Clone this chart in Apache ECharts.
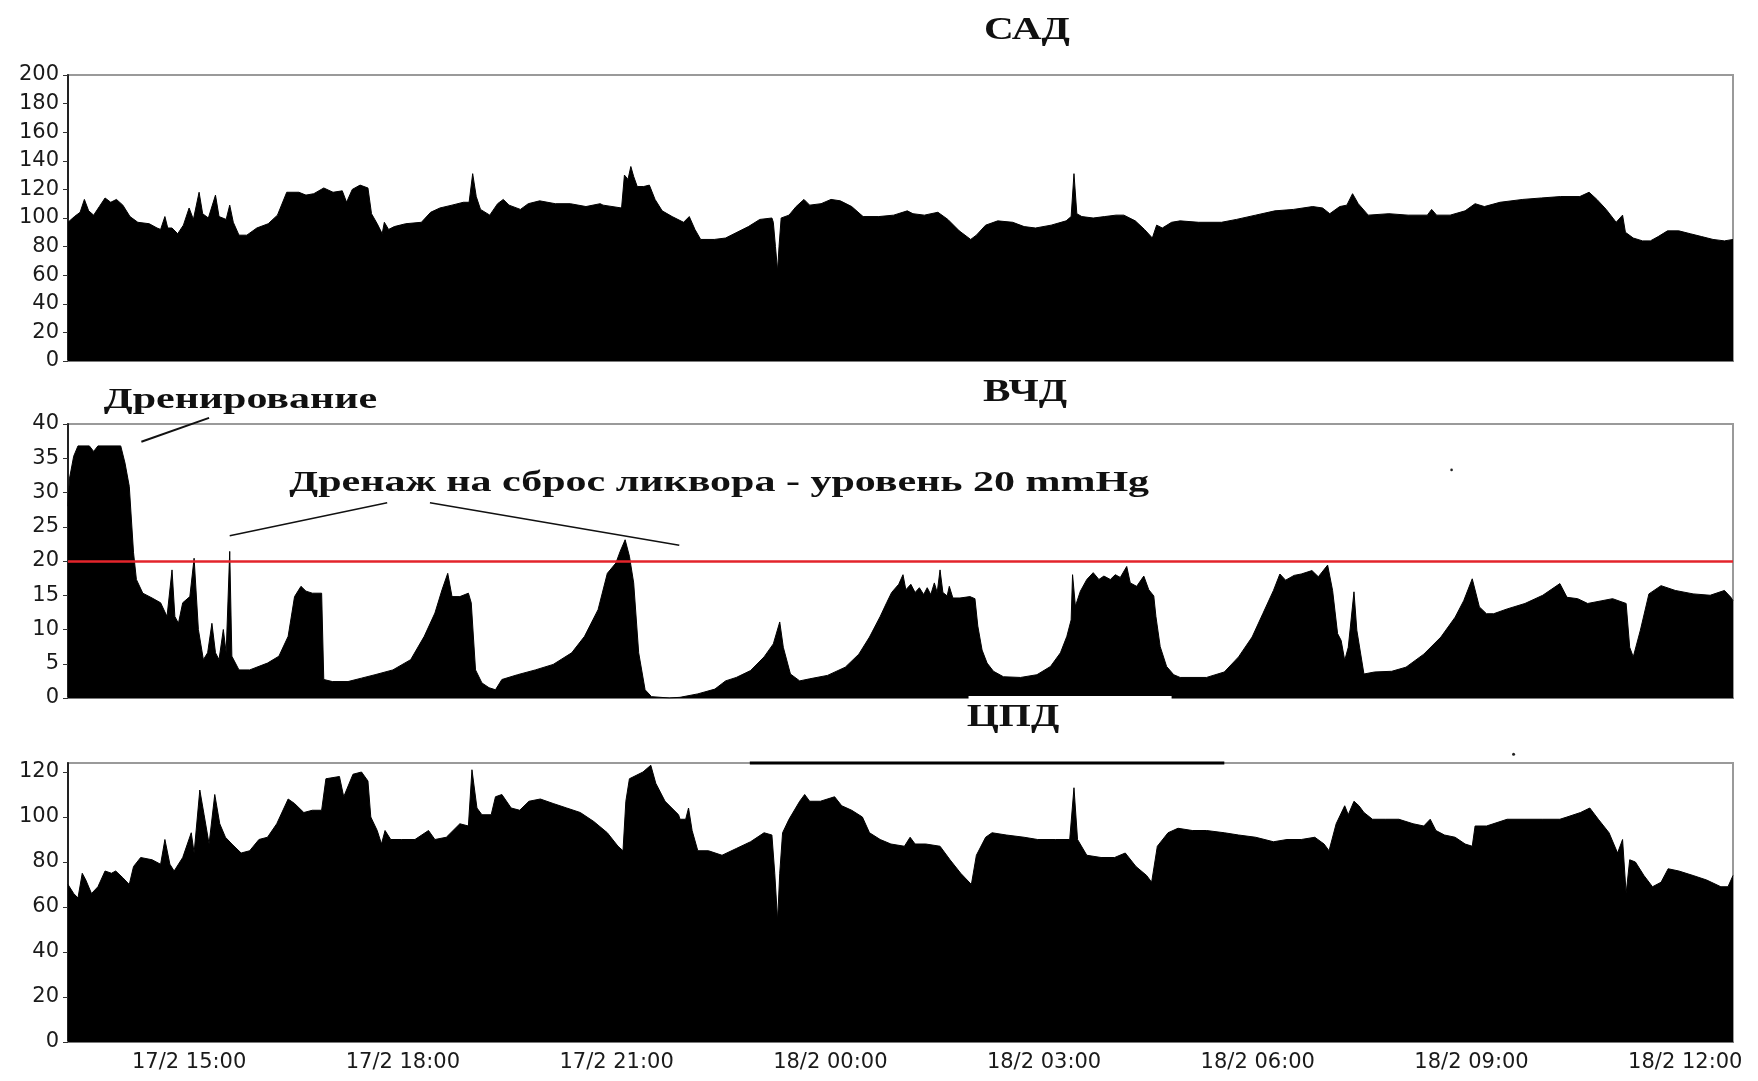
<!DOCTYPE html>
<html><head><meta charset="utf-8">
<script src="https://cdn.jsdelivr.net/npm/echarts@6/dist/echarts.min.js"></script>
<style>html,body{margin:0;padding:0;background:#fff}#c{width:1758px;height:1081px}</style>
</head><body><div id="c"></div>
<script>
// ---------- DATA (time = hours since 17/2 00:00) ----------
const sadTime = [13.30,13.39,13.47,13.53,13.59,13.66,13.74,13.82,13.90,13.98,14.07,14.17,14.28,14.44,14.55,14.60,14.66,14.70,14.76,14.84,14.92,15.00,15.06,15.14,15.19,15.27,15.37,15.42,15.52,15.57,15.62,15.70,15.81,15.95,16.11,16.24,16.37,16.54,16.64,16.75,16.89,17.02,17.15,17.21,17.29,17.40,17.51,17.56,17.64,17.71,17.74,17.80,17.88,18.04,18.26,18.39,18.52,18.69,18.85,18.93,18.98,19.03,19.09,19.22,19.33,19.41,19.49,19.65,19.76,19.92,20.14,20.35,20.57,20.77,
20.81,21.07,21.11,21.16,21.20,21.24,21.29,21.38,21.46,21.54,21.64,21.78,21.94,22.02,22.10,22.18,22.37,22.53,22.69,22.85,23.01,23.18,23.20,23.23,23.26,23.28,23.31,23.42,23.52,23.63,23.71,23.87,24.01,24.14,24.30,24.46,24.68,24.89,25.08,25.16,25.32,25.51,25.65,25.81,25.97,26.05,26.18,26.35,26.56,26.72,26.88,27.10,27.31,27.38,27.42,27.46,27.53,27.69,27.85,28.01,28.12,28.28,28.41,28.52,28.58,28.66,28.79,28.91,
29.17,29.49,29.70,29.97,30.24,30.50,30.77,30.91,31.01,31.15,31.25,31.33,31.41,31.55,31.84,32.11,32.38,32.44,32.51,32.70,32.91,33.05,33.18,33.40,33.72,33.98,34.25,34.52,34.65,34.76,34.89,35.03,35.12,35.16,35.27,35.40,35.51,35.62,35.75,35.91,36.07,36.23,36.39,36.55,36.67];
const sadValue = [97,101,104,113,105,102,108,114,111,113,109,101,97,96,93,92,101,93,93,89,95,107,99,118,103,100,116,101,99,109,97,88,88,93,96,102,118,118,116,117,121,118,119,111,120,123,121,103,96,89,97,92,94,96,97,104,107,109,111,111,131,115,106,102,110,113,109,106,110,112,110,110,108,110,
109,107,130,127,136,129,122,122,123,113,105,101,97,101,92,85,85,86,90,94,99,100,97,80,63,80,100,102,108,113,109,110,113,112,108,101,101,102,105,103,102,104,99,91,85,88,95,98,97,94,93,95,98,101,131,103,101,100,101,102,102,98,92,86,95,93,97,98,
97,97,99,102,105,106,108,107,103,108,109,117,110,102,103,102,102,106,102,102,105,110,108,111,113,114,115,115,118,113,106,97,102,90,86,84,84,87,91,91,89,87,85,84,85];

const icpTime = [13.30,13.32,13.38,13.44,13.60,13.66,13.72,14.04,14.10,14.16,14.22,14.26,14.35,14.48,14.60,14.69,14.76,14.80,14.85,14.91,15.01,15.07,15.13,15.20,15.26,15.32,15.37,15.42,15.48,15.52,15.57,15.60,15.70,15.85,16.10,16.26,16.39,16.48,16.57,16.64,16.73,16.86,16.89,17.01,17.23,17.42,17.61,17.86,18.11,18.30,18.45,18.55,18.63,18.69,18.80,18.92,18.96,19.02,19.11,19.21,19.30,19.39,19.61,19.86,20.11,20.37,20.55,20.74,20.87,20.99,21.05,21.12,21.18,21.24,21.31,21.40,21.49,21.74,
21.89,22.14,22.38,22.53,22.68,22.88,23.07,23.20,23.29,23.34,23.44,23.57,23.71,23.96,24.21,24.40,24.55,24.70,24.79,24.86,24.96,25.02,25.06,25.13,25.19,25.25,25.31,25.36,25.41,25.46,25.50,25.54,25.58,25.64,25.67,25.72,25.82,25.96,26.03,26.07,26.13,26.20,26.29,26.43,26.67,26.90,27.09,27.23,27.32,27.38,27.40,27.44,27.51,27.60,27.69,27.77,27.84,27.93,28.00,28.07,28.16,28.21,28.30,28.40,28.47,28.54,28.57,28.63,28.72,28.82,28.91,29.28,
29.53,29.73,29.92,30.07,30.22,30.31,30.39,30.51,30.61,30.76,30.85,30.98,31.05,31.12,31.17,31.22,31.27,31.35,31.39,31.49,31.64,31.88,32.08,32.33,32.57,32.77,32.89,33.01,33.11,33.21,33.31,33.50,33.75,34.00,34.24,34.34,34.49,34.63,34.83,34.98,35.17,35.22,35.27,35.37,35.49,35.66,35.86,36.11,36.35,36.55,36.64,36.67];
const icpValue = [28,32,35.3,36.8,36.8,36,36.8,36.8,34.3,30.9,21.2,17.3,15.3,14.6,13.9,11.9,18.7,11.9,10.9,13.9,14.8,20.4,10,5.6,6.6,10.9,6.6,5.6,10,6.6,21.4,6.1,4.1,4.1,5.1,6.1,9,14.8,16.3,15.6,15.3,15.3,2.7,2.4,2.4,2.9,3.4,4.1,5.6,9,12.4,15.8,18.2,14.8,14.8,15.3,13.9,4.1,2.2,1.5,1.2,2.7,3.4,4.1,4.9,6.6,9,12.9,18.2,19.7,21.4,23.1,20.7,16.8,6.6,1.2,0.2,0,
0.1,0.6,1.3,2.5,3,4,6,7.9,11.1,7.4,3.5,2.5,2.8,3.3,4.5,6.4,8.9,11.9,13.9,15.4,16.6,18.0,15.8,16.6,15.4,16.1,15.1,16.1,15.1,16.8,15.4,18.7,15.4,14.9,16.3,14.6,14.6,14.8,14.5,10.5,7.0,5.1,3.9,3.1,3.0,3.4,4.6,6.6,9.0,11.4,18.0,13.4,15.6,17.3,18.3,17.3,17.8,17.3,18.0,17.6,19.2,16.8,16.3,17.8,15.8,14.9,11.9,7.5,4.6,3.4,3.0,3,
3.8,6,8.9,12.3,15.7,18.1,17.2,17.9,18.1,18.6,17.7,19.4,15.7,9.4,8.4,5.5,7.4,15.5,9.9,3.5,3.8,3.9,4.5,6.4,8.9,11.8,14.2,17.4,13.3,12.3,12.3,13,13.8,15,16.7,14.7,14.5,13.8,14.2,14.5,13.8,7.4,6,9.9,15.2,16.4,15.7,15.2,15,15.7,14.7,14.2];

const cppTime = [13.30,13.38,13.44,13.50,13.55,13.63,13.72,13.82,13.91,13.97,14.07,14.16,14.22,14.32,14.48,14.60,14.66,14.73,14.79,14.91,15.03,15.07,15.15,15.21,15.28,15.36,15.43,15.51,15.60,15.73,15.85,15.98,16.10,16.23,16.39,16.48,16.61,16.73,16.86,16.92,17.11,17.17,17.30,17.42,17.51,17.55,17.64,17.70,17.75,17.83,17.98,18.17,18.36,18.45,18.61,18.80,18.92,18.97,19.04,19.11,19.24,19.30,19.39,19.52,19.64,19.77,19.93,20.11,20.30,20.49,20.68,20.87,21.02,21.09,21.13,21.18,21.37,21.48,21.55,21.68,21.87,
21.89,21.97,22.01,22.06,22.14,22.29,22.48,22.68,22.88,23.07,23.18,23.22,23.26,23.29,23.33,23.42,23.57,23.64,23.71,23.86,24.06,24.16,24.30,24.45,24.55,24.70,24.85,25.04,25.12,25.19,25.34,25.54,25.68,25.83,25.98,26.05,26.18,26.27,26.47,26.72,26.91,27.16,27.36,27.42,27.47,27.60,27.80,27.99,28.14,28.29,28.44,28.51,28.59,28.74,28.88,29.08,29.28,
29.53,29.73,29.97,30.22,30.41,30.61,30.80,30.93,31.00,31.10,31.22,31.27,31.35,31.42,31.49,31.61,31.79,31.98,32.18,32.33,32.42,32.50,32.62,32.77,32.91,33.01,33.05,33.21,33.50,33.75,34.00,34.24,34.34,34.53,34.66,34.78,34.93,35.05,35.12,35.17,35.22,35.30,35.42,35.54,35.66,35.76,35.91,36.11,36.30,36.50,36.60,36.67];
const cppValue = [70,66,64,75,72,66,69,76,75,76,73,70,78,82,81,79,90,79,76,82,93,84,112,101,88,110,97,91,88,84,85,90,91,97,108,106,102,103,103,117,118,109,119,120,116,100,94,88,94,90,90,90,94,90,91,97,96,121,104,101,101,109,110,104,103,107,108,106,104,102,98,93,87,85,107,117,120,123,115,107,101,
99,99,104,94,85,85,83,86,89,93,92,75,54,75,93,99,107,110,107,107,109,105,103,100,93,90,88,87,91,88,88,87,81,75,70,83,91,93,92,91,90,90,90,113,90,83,82,82,84,78,74,71,87,93,95,94,94,
93,92,91,89,90,90,91,88,85,97,105,101,107,105,102,99,99,99,97,96,99,94,92,91,88,87,96,96,99,99,99,99,100,102,104,99,93,84,90,66,81,80,74,69,71,77,76,74,72,69,69,74];

const xTickHours  = [15,18,21,24,27,30,33,36];
const xTickLabels = ['17/2 15:00','17/2 18:00','17/2 21:00','18/2 00:00','18/2 03:00','18/2 06:00','18/2 09:00','18/2 12:00'];
const sadTicks = [0,20,40,60,80,100,120,140,160,180,200];
const icpTicks = [0,5,10,15,20,25,30,35,40];
const cppTicks = [0,20,40,60,80,100,120];
const icpThreshold = 20;
const panelTitles = ['САД','ВЧД','ЦПД'];
const noteDrain = 'Дренирование';
const noteLevel = 'Дренаж на сброс ликвора - уровень 20 mmHg';

// ---------- CHART ----------
const zip = (t, v) => t.map((x, i) => [x, v[i]]);
const chart = echarts.init(document.getElementById('c'), null, {renderer: 'canvas'});
const X_MIN = 13.30, X_MAX = 36.67;
const labelFont = {fontFamily: 'DejaVu Sans', fontSize: 21, color: '#1a1a1a'};
const grids = [
  {left: 68, right: 25, top: 75, height: 286},
  {left: 68, right: 25, top: 424, height: 274},
  {left: 68, right: 25, top: 763, height: 279}
].map(g => Object.assign({show: true, borderColor: '#9a9a9a', borderWidth: 2, backgroundColor: 'transparent'}, g));

function xAx(i) {
  return {
    type: 'value', gridIndex: i, min: X_MIN, max: X_MAX,
    splitLine: {show: false},
    axisLine: {show: true, lineStyle: {color: '#7a7a7a', width: 2}},
    axisTick: {show: false},
    axisLabel: i === 2 ? Object.assign({
      show: true, margin: 10, customValues: xTickHours,
      formatter: v => { const k = xTickHours.findIndex(h => Math.abs(h - v) < 1e-6); return k >= 0 ? xTickLabels[k] : ''; }
    }, labelFont) : {show: false}
  };
}
function yAx(i, max, ticks) {
  return {
    type: 'value', gridIndex: i, min: 0, max: max,
    splitLine: {show: false},
    axisLine: {show: true, lineStyle: {color: '#222', width: 2}},
    axisTick: {show: true, length: 5, customValues: ticks, lineStyle: {color: '#333', width: 1}},
    axisLabel: Object.assign({margin: 9, customValues: ticks}, labelFont)
  };
}
function areaSeries(i, data, extra) {
  return Object.assign({
    type: 'line', xAxisIndex: i, yAxisIndex: i, data: data,
    showSymbol: false, symbol: 'none', smooth: false, silent: true,
    lineStyle: {color: '#000', width: 1},
    areaStyle: {color: '#000', opacity: 1}
  }, extra || {});
}

chart.setOption({
  animation: false,
  backgroundColor: '#fff',
  grid: grids,
  xAxis: [xAx(0), xAx(1), xAx(2)],
  yAxis: [yAx(0, 200, sadTicks), yAx(1, 40, icpTicks), yAx(2, 124, cppTicks)],
  series: [
    areaSeries(0, zip(sadTime, sadValue)),
    areaSeries(1, zip(icpTime, icpValue), {
      markLine: {silent: true, symbol: 'none', label: {show: false},
        lineStyle: {color: '#e3242b', width: 2.5, type: 'solid'},
        data: [{yAxis: icpThreshold}]}
    }),
    areaSeries(2, zip(cppTime, cppValue))
  ]
});

// ---------- ANNOTATIONS (anchored in data space of the ВЧД panel) ----------
const P = (g, t, v) => chart.convertToPixel({gridIndex: g}, [t, v]);
const serif = {fill: '#111', fontFamily: 'Liberation Serif', fontWeight: 'bold'};
function txt(text, p, size, sx) {
  return {type: 'text', x: p[0], y: p[1], scaleX: sx, z: 50,
    style: Object.assign({text: text, fontSize: size, align: 'center', verticalAlign: 'middle',
      textAlign: 'center', textVerticalAlign: 'middle'}, serif)};
}
function seg(a, b, w, c) {
  return {type: 'line', z: 50, shape: {x1: a[0], y1: a[1], x2: b[0], y2: b[1]},
    style: {stroke: c || '#111', lineWidth: w || 2}};
}
const g = [];
// panel titles
g.push(txt(panelTitles[0], [1027, 31], 31, 1.33));
g.push(txt(panelTitles[1], [1025, 393], 31, 1.33));
g.push(txt(panelTitles[2], [1013, 718], 31, 1.33));
// notes
g.push(txt(noteDrain, P(1, 15.72, 43.4), 30, 1.4));
g.push(txt(noteLevel, P(1, 22.44, 31.3), 30, 1.4));
g.push(seg(P(1, 14.33, 37.4), P(1, 15.28, 40.9)));
g.push(seg(P(1, 15.57, 23.7), P(1, 17.78, 28.5), 1.5));
g.push(seg(P(1, 18.38, 28.5), P(1, 21.88, 22.3), 1.5));
// scan artefacts of the original figure
const wA = P(1, 25.94, 0), wB = P(1, 28.79, 0);
g.push({type: 'rect', z: 40, shape: {x: wA[0], y: wA[1] - 2, width: wB[0] - wA[0], height: 4}, style: {fill: '#fff'}});
const bA = P(2, 22.87, 124), bB = P(2, 29.53, 124);
g.push(seg(bA, bB, 3, '#000'));
const d1 = P(1, 32.72, 33.3), d2 = P(2, 33.59, 127.9);
g.push({type: 'circle', z: 50, shape: {cx: d1[0], cy: d1[1], r: 1.3}, style: {fill: '#222'}});
g.push({type: 'circle', z: 50, shape: {cx: d2[0], cy: d2[1], r: 1.5}, style: {fill: '#222'}});
chart.setOption({graphic: g});
</script></body></html>
